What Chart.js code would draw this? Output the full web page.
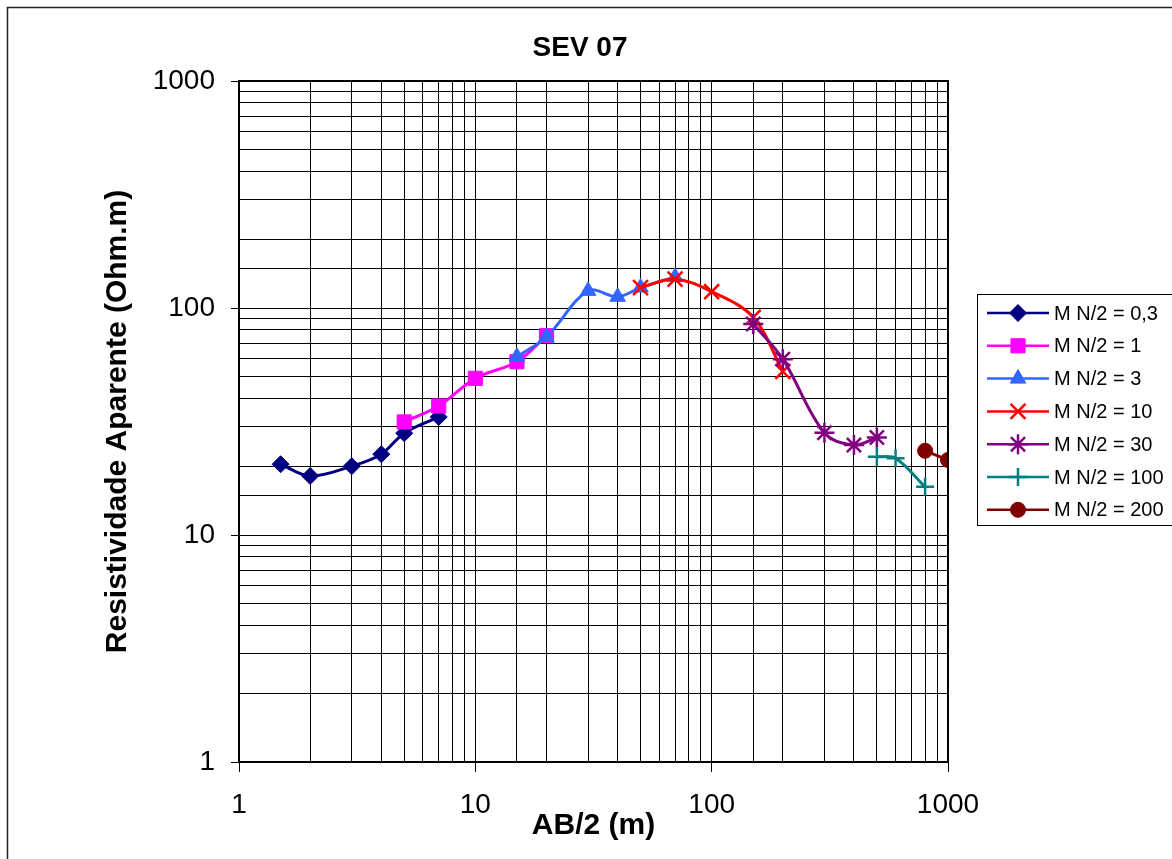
<!DOCTYPE html>
<html lang="pt">
<head>
<meta charset="UTF-8">
<title>SEV 07</title>
<script src="https://cdn.jsdelivr.net/npm/chart.js"></script>
<style>
  html, body { margin: 0; padding: 0; background: #fff; }
  canvas { display: block; }
</style>
</head>
<body>
<canvas id="sevChart" width="1172" height="859"></canvas>
<script>
// AB/2 (m) e resistividade aparente (Ohm.m) para cada MN/2
const ab03 = [1.5, 2, 3, 4, 5, 7];
const rho03 = [20.5, 18.2, 20.1, 22.7, 28.1, 33.1];

const ab1 = [5, 7, 10, 15, 20];
const rho1 = [31.5, 37, 49, 58, 75.5];

const ab3 = [15, 20, 30, 40, 50, 70];
const rho3 = [61, 74.5, 119, 112, 123, 137];

const ab10 = [50, 70, 100, 150, 200];
const rho10 = [123, 134, 118, 91, 52.5];

const ab30 = [150, 200, 300, 400, 500];
const rho30 = [85, 59.5, 28.2, 24.9, 26.9];

const ab100 = [500, 600, 800];
const rho100 = [22.1, 21.8, 16.3];

const ab200 = [800, 1000];
const rho200 = [23.5, 21.4];

const seriesLabels = ['M N/2 = 0,3', 'M N/2 = 1', 'M N/2 = 3', 'M N/2 = 10', 'M N/2 = 30', 'M N/2 = 100', 'M N/2 = 200'];
const decadeTicks = [1, 10, 100, 1000];
const chartTitle = 'SEV 07';

const FONT = '"Liberation Sans", Arial, sans-serif';

function pts(xs, ys) {
    return xs.map((x, i) => ({ x: x, y: ys[i] }));
}

const styles = [
    { color: '#000080', pointStyle: 'rectRot', radius: 8.5, bw: 1 },
    { color: '#FF00FF', pointStyle: 'rect', radius: 10, bw: 1 },
    { color: '#3366FF', pointStyle: 'triangle', radius: 9, bw: 1 },
    { color: '#FF0000', pointStyle: 'crossRot', radius: 10.5, bw: 2.5 },
    { color: '#800080', pointStyle: 'star', radius: 10, bw: 2.5 },
    { color: '#008080', pointStyle: 'cross', radius: 9, bw: 2.5 },
    { color: '#800000', pointStyle: 'circle', radius: 7.5, bw: 1 }
];

const allData = [
    pts(ab03, rho03), pts(ab1, rho1), pts(ab3, rho3), pts(ab10, rho10),
    pts(ab30, rho30), pts(ab100, rho100), pts(ab200, rho200)
];

const datasets = allData.map((d, i) => ({
    label: seriesLabels[i],
    data: d,
    borderColor: styles[i].color,
    backgroundColor: styles[i].color,
    borderWidth: 3,
    tension: 0.35,
    pointStyle: styles[i].pointStyle,
    pointRadius: styles[i].radius,
    pointHoverRadius: styles[i].radius,
    pointBackgroundColor: styles[i].color,
    pointBorderColor: styles[i].color,
    pointBorderWidth: styles[i].bw,
    order: 10 - i
}));

// moldura externa, título, borda da área do gráfico e legenda
const framePlugin = {
    id: 'frame',
    afterDraw(chart) {
        const ctx = chart.ctx;
        const a = chart.chartArea;
        ctx.save();
        ctx.strokeStyle = '#000';
        ctx.lineWidth = 2;
        ctx.strokeRect(a.left, a.top, a.right - a.left, a.bottom - a.top);

        ctx.lineWidth = 1.5;
        ctx.strokeStyle = '#222';
        ctx.beginPath();
        ctx.moveTo(7.5, 900);
        ctx.lineTo(7.5, 7.5);
        ctx.lineTo(1200, 7.5);
        ctx.stroke();

        ctx.fillStyle = '#000';
        ctx.font = 'bold 28px ' + FONT;
        ctx.textAlign = 'center';
        ctx.textBaseline = 'middle';
        ctx.fillText(chartTitle, 580, 48);

        // legenda
        const lx = 977.5, ly = 294.5, step = 32.8;
        ctx.lineWidth = 1;
        ctx.strokeStyle = '#000';
        ctx.fillStyle = '#fff';
        ctx.fillRect(lx, ly, 1200 - lx, 231);
        ctx.strokeRect(lx, ly, 1200 - lx, 231);
        ctx.font = '20px ' + FONT;
        ctx.textBaseline = 'middle';
        ctx.textAlign = 'left';
        seriesLabels.forEach((lab, i) => {
            const y = ly + 18.5 + i * step;
            const st = styles[i];
            ctx.strokeStyle = st.color;
            ctx.fillStyle = st.color;
            ctx.lineWidth = 2.5;
            ctx.beginPath();
            ctx.moveTo(987, y);
            ctx.lineTo(1049, y);
            ctx.stroke();
            ctx.lineWidth = st.bw;
            Chart.helpers.drawPoint(ctx, {
                pointStyle: st.pointStyle,
                radius: st.radius,
                borderWidth: st.bw,
                rotation: 0
            }, 1018, y);
            ctx.fillStyle = '#000';
            ctx.fillText(lab, 1054, y + 1);
        });
        ctx.restore();
    }
};

function isDecade(v) {
    return decadeTicks.includes(Math.round(v * 1000) / 1000);
}

const ctx = document.getElementById('sevChart').getContext('2d');
const sevChart = new Chart(ctx, {
    type: 'line',
    data: { datasets: datasets },
    options: {
        responsive: false,
        animation: false,
        layout: { padding: { left: 0, right: 224, top: 81, bottom: 0 } },
        scales: {
            x: {
                type: 'logarithmic',
                min: 1,
                max: 1000,
                afterFit(s) { s.height = 97; },
                ticks: {
                    autoSkip: false,
                    maxRotation: 0,
                    padding: 16,
                    color: '#000',
                    font: { family: FONT, size: 28 },
                    callback: v => isDecade(v) ? String(v) : ''
                },
                grid: {
                    color: '#000',
                    lineWidth: 1,
                    tickLength: 10,
                    tickColor: c => (c.tick && isDecade(c.tick.value)) ? '#000' : 'rgba(0,0,0,0)'
                },
                border: { display: true, color: '#000', width: 2 },
                title: {
                    display: true,
                    text: 'AB/2 (m)',
                    color: '#000',
                    font: { family: FONT, size: 30, weight: 'bold' },
                    padding: { top: 0, bottom: 15 }
                }
            },
            y: {
                type: 'logarithmic',
                min: 1,
                max: 1000,
                afterFit(s) { s.width = 239; },
                ticks: {
                    autoSkip: false,
                    padding: 16,
                    color: '#000',
                    font: { family: FONT, size: 28 },
                    callback: v => isDecade(v) ? String(v) : ''
                },
                grid: {
                    color: '#000',
                    lineWidth: 1,
                    tickLength: 8,
                    tickColor: c => (c.tick && isDecade(c.tick.value)) ? '#000' : 'rgba(0,0,0,0)'
                },
                border: { display: true, color: '#000', width: 2 },
                title: {
                    display: true,
                    text: 'Resistividade Aparente (Ohm.m)',
                    color: '#000',
                    font: { family: FONT, size: 30, weight: 'bold' },
                    padding: { top: 100, bottom: 0 }
                }
            }
        },
        plugins: {
            legend: { display: false },
            tooltip: { enabled: false },
            title: { display: false }
        }
    },
    plugins: [framePlugin]
});
</script>
</body>
</html>
